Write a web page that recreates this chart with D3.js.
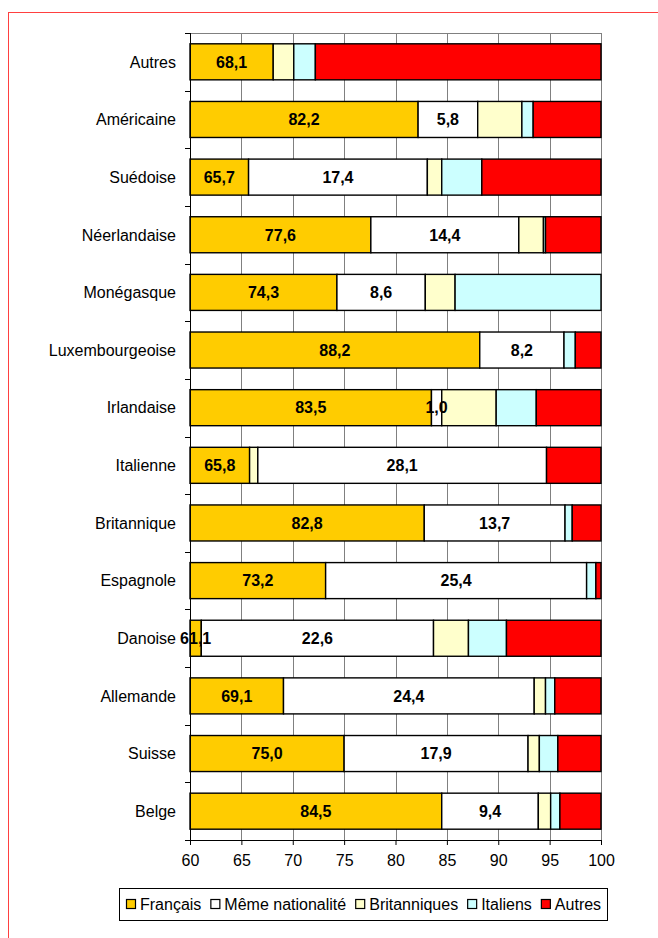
<!DOCTYPE html>
<html><head><meta charset="utf-8">
<script src="https://cdn.jsdelivr.net/npm/d3@7"></script>
<style>
html,body{margin:0;padding:0;background:#fff;}
text{font-family:Arial,"Liberation Sans",sans-serif;}
</style></head>
<body>
<svg id="chart" width="658" height="938"></svg>
<script>
const categories = ["Autres","Américaine","Suédoise","Néerlandaise","Monégasque","Luxembourgeoise","Irlandaise","Italienne","Britannique","Espagnole","Danoise","Allemande","Suisse","Belge"];
const francais     = [68.1,82.2,65.7,77.6,74.3,88.2,83.5,65.8,82.8,73.2,61.1,69.1,75.0,84.5];
const meme         = [0,5.8,17.4,14.4,8.6,8.2,1.0,0,13.7,25.4,22.6,24.4,17.9,9.4];
const britanniques = [2.0,4.3,1.4,2.4,2.9,0,5.3,0.8,0,0,3.4,1.1,1.1,1.2];
const italiens     = [2.1,1.1,3.9,0.2,14.2,1.1,3.9,28.1,0.7,0.9,3.7,0.9,1.8,0.9];
const autres       = [27.8,6.6,11.6,5.4,0,2.5,6.3,5.3,2.8,0.5,9.2,4.5,4.2,4.0];
const seriesNames  = ["Français","Même nationalité","Britanniques","Italiens","Autres"];
const seriesColors = ["#FFCC00","#FFFFFF","#FFFFCC","#CCFFFF","#FF0000"];
const xTicks = [60,65,70,75,80,85,90,95,100];
// segment shown as "même nationalité" (white, labelled) although stored in its own nationality column
const sameNationality = [["Italienne","Italiens"]];
const labelledSeries = ["Français","Même nationalité"];

const seriesValues = [francais, meme, britanniques, italiens, autres];
const svg = d3.select("#chart");
const FONT = 16;

// outer red frame
svg.append("rect").attr("x",8.5).attr("y",12.5).attr("width",800).attr("height",1000)
  .attr("fill","none").attr("stroke","#FF4040").attr("stroke-width",1);

const x = d3.scaleLinear().domain([60,100]).range([190,601]).clamp(true);
const y = d3.scaleBand().domain(categories).range([33,840]).paddingInner(0.375).paddingOuter(0.1875);

// gridlines
svg.append("g").selectAll("line").data(xTicks.slice(1)).join("line")
  .attr("x1",d=>Math.round(x(d))+0.5).attr("x2",d=>Math.round(x(d))+0.5)
  .attr("y1",33).attr("y2",840).attr("stroke","#808080").attr("stroke-width",1);
svg.append("line").attr("x1",190).attr("x2",601.5).attr("y1",33.5).attr("y2",33.5)
  .attr("stroke","#808080").attr("stroke-width",1);

// stacked data (cumulative percentages, axis starts at 60)
const rows = categories.map((c,i)=>{
  let acc = 0;
  return seriesNames.map((s,j)=>{
    const v = seriesValues[j][i];
    const seg = {cat:c, series:s, value:v, x0:acc, x1:acc+v, color:seriesColors[j], label:labelledSeries.includes(s)};
    if (sameNationality.some(p=>p[0]===c && p[1]===s)) { seg.color = seriesColors[1]; seg.label = true; }
    acc += v;
    return seg;
  });
}).flat().filter(d=>d.value>0);

const g = svg.append("g");
g.selectAll("rect").data(rows).join("rect")
  .attr("x",d=>x(d.x0)).attr("width",d=>x(d.x1)-x(d.x0))
  .attr("y",d=>y(d.cat)).attr("height",y.bandwidth())
  .attr("fill",d=>d.color).attr("stroke","#000").attr("stroke-width",1.4);

const fmt = d3.format(".1f");
g.selectAll("text").data(rows.filter(d=>d.label)).join("text")
  .attr("x",d=>(x(d.x0)+x(d.x1))/2).attr("y",d=>y(d.cat)+y.bandwidth()/2)
  .attr("dy","0.36em").attr("text-anchor","middle")
  .attr("font-size",FONT).attr("font-weight","bold").attr("fill","#000")
  .text(d=>fmt(d.value).replace(".",","));

// y axis
const step = y.step();
svg.append("line").attr("x1",190.5).attr("x2",190.5).attr("y1",33).attr("y2",840).attr("stroke","#000").attr("stroke-width",1);
svg.append("g").selectAll("line").data(d3.range(categories.length+1)).join("line")
  .attr("x1",185).attr("x2",190).attr("y1",i=>Math.round(33+i*step)+0.5).attr("y2",i=>Math.round(33+i*step)+0.5)
  .attr("stroke","#000");
svg.append("g").selectAll("text").data(categories).join("text")
  .attr("x",176).attr("y",d=>y(d)+y.bandwidth()/2).attr("dy","0.36em")
  .attr("text-anchor","end").attr("font-size",FONT).attr("fill","#000").text(d=>d);

// x axis
const xAxis = d3.axisBottom(x).tickValues(xTicks).tickSize(5).tickPadding(10).tickFormat(d3.format("d"));
const xg = svg.append("g").attr("transform","translate(0,840)").call(xAxis);
xg.select(".domain").attr("stroke","#000").attr("d","M185,0.5H601");
xg.selectAll(".tick line").attr("stroke","#000");
xg.selectAll(".tick text").attr("font-size",FONT).attr("font-family","Arial, 'Liberation Sans', sans-serif").attr("fill","#000");

// legend
const lg = svg.append("g");
lg.append("rect").attr("x",119.5).attr("y",888.5).attr("width",488).attr("height",32)
  .attr("fill","#fff").attr("stroke","#000").attr("stroke-width",1);
let lx = 126;
seriesNames.forEach((s,i)=>{
  lg.append("rect").attr("x",lx+0.5).attr("y",899.5).attr("width",9).attr("height",9)
    .attr("fill",seriesColors[i]).attr("stroke","#000").attr("stroke-width",1.2);
  const t = lg.append("text").attr("x",lx+14).attr("y",904).attr("dy","0.36em")
    .attr("font-size",FONT).attr("fill","#000").text(s);
  lx = lx + 14 + t.node().getComputedTextLength() + 9;
});
</script>
</body></html>
